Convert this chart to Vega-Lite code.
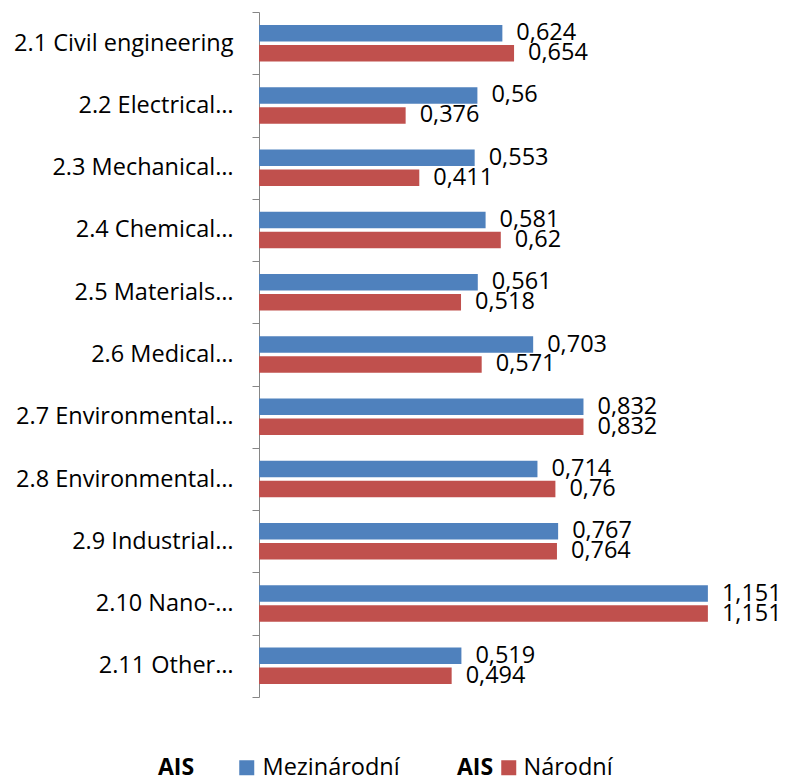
{
  "$schema": "https://vega.github.io/schema/vega-lite/v6.json",
  "autosize": {"type": "none"},
  "padding": {"left": 259, "top": 12, "right": 20, "bottom": 81},
  "width": 507,
  "height": 685,
  "config": {
    "font": "Open Sans",
    "view": {"stroke": null},
    "locale": {"number": {"decimal": ",", "thousands": " ", "grouping": [3], "currency": ["", " Kč"]}}
  },
  "data": {
    "values": [
      {"category": "2.1 Civil engineering", "series": "Mezinárodní", "value": 0.624},
      {"category": "2.1 Civil engineering", "series": "Národní", "value": 0.654},
      {"category": "2.2 Electrical…", "series": "Mezinárodní", "value": 0.56},
      {"category": "2.2 Electrical…", "series": "Národní", "value": 0.376},
      {"category": "2.3 Mechanical…", "series": "Mezinárodní", "value": 0.553},
      {"category": "2.3 Mechanical…", "series": "Národní", "value": 0.411},
      {"category": "2.4 Chemical…", "series": "Mezinárodní", "value": 0.581},
      {"category": "2.4 Chemical…", "series": "Národní", "value": 0.62},
      {"category": "2.5 Materials…", "series": "Mezinárodní", "value": 0.561},
      {"category": "2.5 Materials…", "series": "Národní", "value": 0.518},
      {"category": "2.6 Medical…", "series": "Mezinárodní", "value": 0.703},
      {"category": "2.6 Medical…", "series": "Národní", "value": 0.571},
      {"category": "2.7 Environmental… ", "series": "Mezinárodní", "value": 0.832},
      {"category": "2.7 Environmental… ", "series": "Národní", "value": 0.832},
      {"category": "2.8 Environmental…", "series": "Mezinárodní", "value": 0.714},
      {"category": "2.8 Environmental…", "series": "Národní", "value": 0.76},
      {"category": "2.9 Industrial…", "series": "Mezinárodní", "value": 0.767},
      {"category": "2.9 Industrial…", "series": "Národní", "value": 0.764},
      {"category": "2.10 Nano-…", "series": "Mezinárodní", "value": 1.151},
      {"category": "2.10 Nano-…", "series": "Národní", "value": 1.151},
      {"category": "2.11 Other…", "series": "Mezinárodní", "value": 0.519},
      {"category": "2.11 Other…", "series": "Národní", "value": 0.494}
    ]
  },
  "layer": [
    {
      "transform": [{"filter": "datum.series === 'Mezinárodní'"}],
      "mark": {"type": "bar", "color": "#4F81BD"},
      "encoding": {
        "y": {"field": "category", "type": "nominal", "sort": null,
          "scale": {"paddingInner": 0, "paddingOuter": 0},
          "axis": {"title": null, "domainColor": "#868686", "tickColor": "#868686", "tickSize": 7, "tickBand": "extent", "labelPadding": 19, "labelFontSize": 23.5, "labelColor": "#000000", "labelFont": "Open Sans", "labelLimit": 400}},
        "yOffset": {"field": "series", "type": "nominal", "scale": {"domain": ["Mezinárodní", "Národní"], "paddingInner": 0.175, "paddingOuter": 0.645}},
        "x": {"field": "value", "type": "quantitative", "scale": {"domain": [0, 1.3], "nice": false}, "axis": null},
        "color": {"field": "series", "type": "nominal", "scale": {"domain": ["Mezinárodní"], "range": ["#4F81BD"]},
          "legend": {"orient": "none", "legendX": -101, "legendY": 744, "title": "AIS", "titleOrient": "left", "titleFontWeight": "bold", "titleFontSize": 23, "titleColor": "#000000", "titlePadding": 40, "titleBaseline": "middle", "symbolType": "square", "symbolSize": 225, "symbolStrokeWidth": 0, "symbolOpacity": 1, "labelFontSize": 23.5, "labelColor": "#000000", "labelOffset": 4, "labelLimit": 300}}
      }
    },
    {
      "transform": [{"filter": "datum.series === 'Národní'"}],
      "mark": {"type": "bar", "color": "#C0504D"},
      "encoding": {
        "y": {"field": "category", "type": "nominal", "sort": null},
        "yOffset": {"field": "series", "type": "nominal"},
        "x": {"field": "value", "type": "quantitative"},
        "color": {"field": "series", "type": "nominal", "scale": {"domain": ["Národní"], "range": ["#C0504D"]},
          "legend": {"orient": "none", "legendX": 198, "legendY": 744, "title": "AIS", "titleOrient": "left", "titleFontWeight": "bold", "titleFontSize": 23, "titleColor": "#000000", "titlePadding": 3, "titleBaseline": "middle", "symbolType": "square", "symbolSize": 225, "symbolStrokeWidth": 0, "symbolOpacity": 1, "labelFontSize": 23.5, "labelColor": "#000000", "labelOffset": 3, "labelLimit": 300}}
      }
    },
    {
      "mark": {"type": "text", "align": "left", "baseline": "middle", "dx": 14, "fontSize": 23.5, "color": "#000000"},
      "encoding": {
        "y": {"field": "category", "type": "nominal", "sort": null},
        "yOffset": {"field": "series", "type": "nominal"},
        "x": {"field": "value", "type": "quantitative"},
        "text": {"field": "value", "type": "quantitative", "format": ".3~f"}
      }
    }
  ],
  "resolve": {"scale": {"color": "independent"}}
}
